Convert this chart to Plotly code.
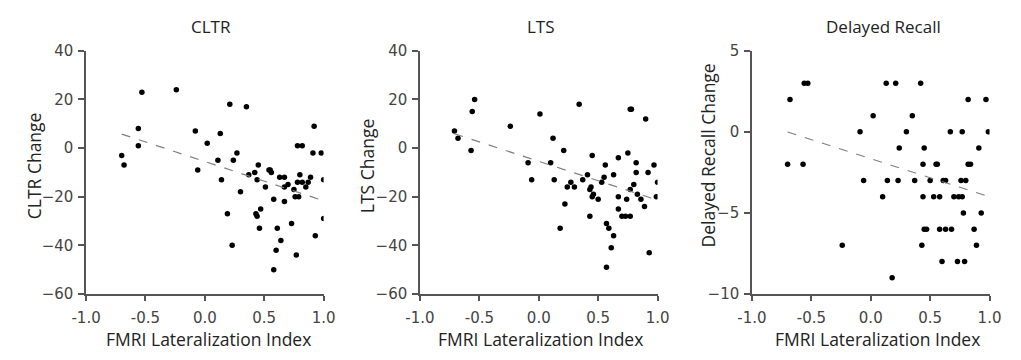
import numpy as np
import plotly.graph_objects as go

# ---------------- data ----------------
cltr_x = [-0.70, -0.68, -0.56, -0.56, -0.53, -0.24, -0.08, -0.06, 0.02, 0.11,
          0.13, 0.14, 0.19, 0.21, 0.23, 0.24, 0.27, 0.30, 0.35, 0.37,
          0.42, 0.43, 0.44, 0.44, 0.45, 0.46, 0.47, 0.51, 0.54, 0.55,
          0.56, 0.58, 0.58, 0.60, 0.61, 0.63, 0.64, 0.67, 0.67, 0.67,
          0.70, 0.73, 0.75, 0.76, 0.78, 0.77, 0.78, 0.79, 0.80, 0.82,
          0.82, 0.85, 0.87, 0.89, 0.91, 0.92, 0.93, 0.98, 1.00, 1.00]
cltr_y = [-3, -7, 1, 8, 23, 24, 7, -9, 2, -5,
          6, -13, -27, 18, -40, -5, -2, -18, 17, -11,
          -10, -27, -28, -13, -7, -33, -25, -16, -9, -9,
          -10, -21, -50, -42, -33, -12, -38, -12, -16, -22,
          -15, -31, -17, -20, 1, -44, -14, -20, -11, 1,
          -14, -16, -14, -12, -2, 9, -36, -2, -13, -29]

lts_x = [-0.71, -0.68, -0.57, -0.56, -0.54, -0.24, -0.09, -0.06, 0.01, 0.10,
         0.12, 0.13, 0.18, 0.21, 0.22, 0.24, 0.27, 0.30, 0.34, 0.37,
         0.41, 0.43, 0.44, 0.43, 0.45, 0.45, 0.46, 0.50, 0.53, 0.55,
         0.56, 0.57, 0.59, 0.61, 0.57, 0.63, 0.63, 0.67, 0.67, 0.67,
         0.70, 0.73, 0.74, 0.75, 0.77, 0.77, 0.77, 0.78, 0.80, 0.82,
         0.82, 0.83, 0.86, 0.89, 0.90, 0.92, 0.93, 0.97, 0.99, 1.00]
lts_y = [7, 4, -1, 15, 20, 9, -6, -13, 14, -6,
         4, -13, -33, -1, -23, -16, -14, -16, 18, -13,
         -11, -17, -16, -28, -3, -20, -19, -21, -14, -12,
         -7, -31, -33, -41, -49, -36, -11, -4, -20, -25,
         -28, -28, -21, -2, -28, -17, 16, 16, -15, -6,
         -10, -19, -21, -24, 12, -10, -43, -7, -20, -14]

dr_x = [-0.70, -0.68, -0.57, -0.56, -0.53, -0.24, -0.09, -0.06, 0.02, 0.10,
        0.13, 0.14, 0.18, 0.21, 0.23, 0.24, 0.30, 0.35, 0.37, 0.42,
        0.43, 0.44, 0.44, 0.45, 0.45, 0.47, 0.50, 0.53, 0.55, 0.56,
        0.58, 0.58, 0.60, 0.61, 0.63, 0.63, 0.67, 0.68, 0.70, 0.73,
        0.74, 0.76, 0.77, 0.78, 0.77, 0.79, 0.80, 0.82, 0.82, 0.84,
        0.87, 0.89, 0.91, 0.93, 0.97, 0.99]
dr_y = [-2, 2, -2, 3, 3, -7, 0, -3, 1, -4,
        3, -3, -9, 3, -3, -1, 0, 1, -3, 3,
        -7, -4, -2, -1, -6, -6, -3, -4, -2, -2,
        -4, -6, -8, -3, -3, -6, 0, -6, -4, -8,
        -4, -3, 0, -5, -4, -8, -3, 2, -2, -2,
        -6, -7, -1, -5, 2, 0]

panel_titles = ["CLTR", "LTS", "Delayed Recall"]
y_titles = ["CLTR Change", "LTS Change", "Delayed Recall Change"]
x_title = "FMRI Lateralization Index"
xticks = [-1.0, -0.5, 0.0, 0.5, 1.0]
yticks = [[-60, -40, -20, 0, 20, 40], [-60, -40, -20, 0, 20, 40], [-10, -5, 0, 5]]
yranges = [[-60, 40], [-60, 40], [-10, 5]]
series = [(cltr_x, cltr_y), (lts_x, lts_y), (dr_x, dr_y)]

# ---------------- layout (pixel placement) ----------------
W, H = 1021, 360
x_domains = [[73 / W, 317 / W], [416 / W, 660 / W], [757 / W, 1001 / W]]
y_domain = [1 - 300 / H, 1 - 44 / H]
ptitle_px = [201, 540, 892]        # panel title centres (x)
xtitle_px = [199, 540, 886]        # x-axis title centres (x)
ytitle_px = [(19, 165), (361, 165), (712, 154)]  # y-axis title centres

tick_font = dict(family="DejaVu Sans, Verdana, sans-serif", size=15, color="#444444")
xtitle_font = dict(family="'Open Sans', sans-serif", size=17.5, color="#222222")
ytitle_font = dict(family="'Open Sans', sans-serif", size=17.5, color="#222222")
ptitle_font = dict(family="'Open Sans', sans-serif", size=17, color="#222222")
axis_col = "#555555"

fig = go.Figure()
annotations = []
layout = dict(
    width=W, height=H,
    margin=dict(l=0, r=0, t=0, b=0),
    paper_bgcolor="white", plot_bgcolor="white",
    showlegend=False,
)

for i, (sx, sy) in enumerate(series):
    n = "" if i == 0 else str(i + 1)
    xa, ya = "x" + n, "y" + n
    xs = np.array(sx, dtype=float)
    ys = np.array(sy, dtype=float)
    fig.add_trace(go.Scatter(
        x=xs, y=ys, mode="markers", xaxis=xa, yaxis=ya,
        marker=dict(color="black", size=5.5, line=dict(width=0)),
        hoverinfo="skip",
    ))
    # least-squares fit line over the data's x extent
    slope, icpt = np.polyfit(xs, ys, 1)
    lx = np.array([xs.min(), xs.max()])
    fig.add_trace(go.Scatter(
        x=lx, y=slope * lx + icpt, mode="lines", xaxis=xa, yaxis=ya,
        line=dict(color="#808080", width=1.2, dash="dash"),
        hoverinfo="skip",
    ))
    layout["xaxis" + n] = dict(
        domain=x_domains[i], anchor=ya, range=[-1.0, 1.0],
        tickvals=xticks, ticktext=[f"{v:.1f}" for v in xticks],
        showline=True, linecolor=axis_col, linewidth=1.5,
        ticks="outside", ticklen=5, tickwidth=1.5, tickcolor=axis_col,
        ticklabelstandoff=4,
        showgrid=False, zeroline=False, tickfont=tick_font,
    )
    layout["yaxis" + n] = dict(
        domain=y_domain, anchor=xa, range=yranges[i],
        tickvals=yticks[i],
        showline=True, linecolor=axis_col, linewidth=1.5,
        ticks="outside", ticklen=6, tickwidth=1.5, tickcolor=axis_col,
        ticklabelstandoff=2,
        showgrid=False, zeroline=False, tickfont=tick_font,
    )
    annotations.append(dict(
        text=panel_titles[i], showarrow=False, xref="paper", yref="paper",
        x=ptitle_px[i] / W, y=1 - 18.5 / H,
        xanchor="center", yanchor="middle", font=ptitle_font,
    ))
    annotations.append(dict(
        text=x_title, showarrow=False, xref="paper", yref="paper",
        x=xtitle_px[i] / W, y=1 - 347 / H,
        xanchor="center", yanchor="middle", font=xtitle_font,
    ))
    annotations.append(dict(
        text=y_titles[i], showarrow=False, xref="paper", yref="paper",
        x=ytitle_px[i][0] / W, y=1 - ytitle_px[i][1] / H, textangle=-90,
        xanchor="center", yanchor="middle", font=ytitle_font,
    ))

layout["annotations"] = annotations
fig.update_layout(**layout)
fig.write_html("out.html")
